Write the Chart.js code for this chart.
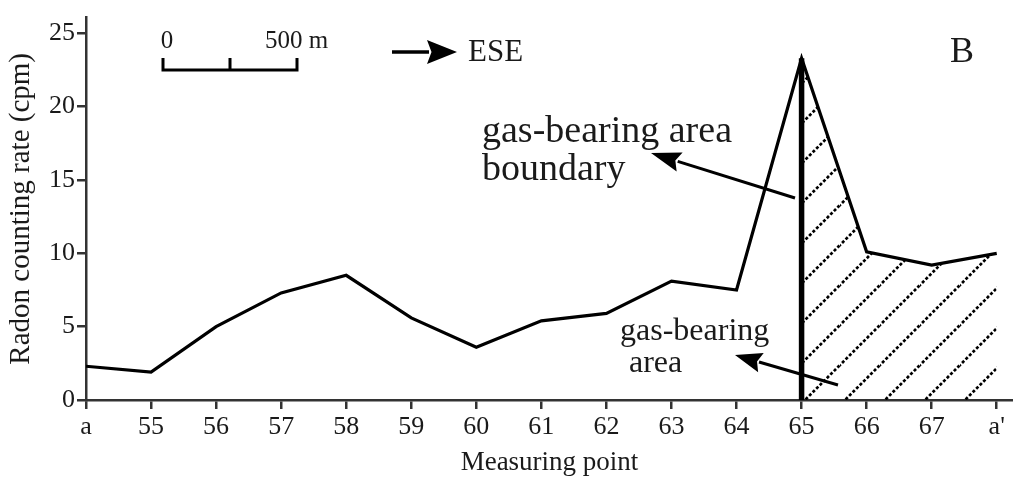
<!DOCTYPE html>
<html><head><meta charset="utf-8">
<script src="https://cdn.jsdelivr.net/npm/chart.js@4/dist/chart.umd.min.js"></script>
<style>html,body{margin:0;padding:0;background:#fff;}#wrap{width:1013px;height:482px;}</style>
</head><body><div id="wrap"><canvas id="c" width="1013" height="482"></canvas></div>
<script>
const categories = ['a','55','56','57','58','59','60','61','62','63','64','65','66','67',"a'"];
const radonValues = [2.3,1.9,5.0,7.3,8.5,5.6,3.6,5.4,5.9,8.1,7.5,23.3,10.1,9.2,10.0];
const yTickValues = [0,5,10,15,20,25];
const gasAreaFrom = '65';
const yAxisMax = 26.07;
const xAxisMax = 14.25;

const FONT = "'Liberation Serif', 'Times New Roman', serif";
const INK = '#1a1a1a';

function hatchPattern(){
  const s = 40, c = document.createElement('canvas');
  c.width = s; c.height = s;
  const g = c.getContext('2d');
  g.strokeStyle = '#000'; g.lineWidth = 2.7; g.setLineDash([3, 2]);
  for (let n = -1; n <= 2; n++) {
    const k = n * s + 5;
    g.beginPath(); g.moveTo(-5, k + 5); g.lineTo(k + 5, -5); g.stroke();
  }
  return g.createPattern(c, 'repeat');
}

const startIdx = categories.indexOf(gasAreaFrom);
const mainPts = radonValues.map((v, i) => ({x: i, y: v}));
const hatchPts = mainPts.slice(startIdx);
const boundaryPts = [{x: startIdx, y: 0}, {x: startIdx, y: radonValues[startIdx]}];

function arrow(ctx, x1, y1, x2, y2, head, half, lw){
  const dx = x2 - x1, dy = y2 - y1, L = Math.hypot(dx, dy);
  const ux = dx / L, uy = dy / L;
  const bx = x2 - ux * head, by = y2 - uy * head;
  ctx.save();
  ctx.strokeStyle = '#000'; ctx.fillStyle = '#000'; ctx.lineWidth = lw;
  ctx.beginPath(); ctx.moveTo(x1, y1); ctx.lineTo(bx + ux * 2, by + uy * 2); ctx.stroke();
  ctx.beginPath(); ctx.moveTo(x2, y2);
  ctx.lineTo(bx - uy * half, by + ux * half);
  ctx.lineTo(bx + ux * head * 0.15, by + uy * head * 0.15);
  ctx.lineTo(bx + uy * half, by - ux * half);
  ctx.closePath(); ctx.fill();
  ctx.restore();
}

const annotations = {
  id: 'annotations',
  afterDraw(chart){
    const ctx = chart.ctx;
    ctx.save();
    ctx.fillStyle = INK; ctx.textBaseline = 'alphabetic';
    // scale bar
    ctx.strokeStyle = '#000'; ctx.lineWidth = 3; ctx.lineCap = 'butt';
    ctx.beginPath();
    ctx.moveTo(163, 58); ctx.lineTo(163, 70); ctx.lineTo(297, 70); ctx.lineTo(297, 58);
    ctx.moveTo(230, 58); ctx.lineTo(230, 70);
    ctx.stroke();
    ctx.font = '25px ' + FONT;
    ctx.textAlign = 'center'; ctx.fillText('0', 167, 48);
    ctx.textAlign = 'left'; ctx.fillText('500 m', 265, 48);
    // direction
    arrow(ctx, 392, 52, 457, 52, 30, 12, 3.5);
    ctx.font = '31px ' + FONT; ctx.fillText('ESE', 468, 61);
    ctx.font = '36px ' + FONT; ctx.fillText('B', 950, 62);
    // boundary label
    ctx.font = '38px ' + FONT;
    ctx.fillText('gas-bearing area', 482, 142);
    ctx.fillText('boundary', 482, 180);
    arrow(ctx, 795, 198, 651, 153, 30, 10, 3);
    // area label
    ctx.font = '32px ' + FONT;
    ctx.fillText('gas-bearing', 620, 340);
    ctx.fillText('area', 629, 372);
    arrow(ctx, 838, 385, 735, 355, 27, 10, 3);
    ctx.restore();
  }
};

new Chart(document.getElementById('c'), {
  type: 'line',
  data: {
    datasets: [
      {label: 'Radon', data: mainPts, borderColor: '#000', borderWidth: 3.2, pointRadius: 0, tension: 0, fill: false, order: 1, borderJoinStyle: 'miter'},
      {label: 'boundary', data: boundaryPts, borderColor: '#000', borderWidth: 5.5, pointRadius: 0, fill: false, order: 0},
      {label: 'gas-bearing area', data: hatchPts, borderWidth: 0, borderColor: 'rgba(0,0,0,0)', pointRadius: 0, tension: 0, fill: 'origin', backgroundColor: hatchPattern(), order: 2}
    ]
  },
  options: {
    responsive: false, animation: false, devicePixelRatio: 1,
    layout: {padding: {top: 12, left: 0, right: 0, bottom: 0}},
    plugins: {legend: {display: false}, tooltip: {enabled: false}},
    scales: {
      x: {
        type: 'linear', min: 0, max: xAxisMax,
        afterBuildTicks(s){ s.ticks = categories.map((_, i) => ({value: i})); },
        afterFit(s){ s.height = 82; },
        border: {display: true, color: '#333', width: 2.5},
        grid: {drawOnChartArea: false, drawTicks: true, tickLength: 9, color: '#333', lineWidth: 2.5},
        ticks: {autoSkip: false, maxRotation: 0, padding: 3, color: INK, font: {family: FONT, size: 26},
          callback: (v) => categories[v] ?? ''},
        title: {display: true, text: 'Measuring point', color: INK, font: {family: FONT, size: 27}, padding: {top: 0, bottom: 3}}
      },
      y: {
        min: 0, max: yAxisMax,
        afterBuildTicks(s){ s.ticks = yTickValues.map(v => ({value: v})); },
        afterFit(s){ s.width = 86; },
        border: {display: true, color: '#333', width: 2.5},
        grid: {drawOnChartArea: false, drawTicks: true, tickLength: 9, color: '#333', lineWidth: 2.5},
        ticks: {padding: 2, color: INK, font: {family: FONT, size: 26}},
        title: {display: true, text: 'Radon counting rate (cpm)', color: INK, font: {family: FONT, size: 29}, padding: {top: 4, bottom: 4}}
      }
    }
  },
  plugins: [annotations]
});
</script></body></html>
